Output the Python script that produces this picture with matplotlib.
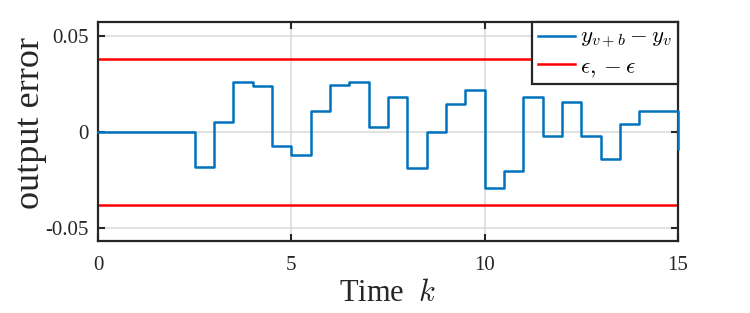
import numpy as np
import matplotlib
matplotlib.use('Agg')
import matplotlib.pyplot as plt

plt.rcParams['font.family'] = ['Liberation Serif', 'DejaVu Serif']
plt.rcParams['mathtext.fontset'] = 'cm'

# time steps (sampling 0.5) and output error values
t = np.arange(0, 15.01, 0.5)
err = [0, 0, 0, 0, 0, -0.0183, 0.0054, 0.0263, 0.0238, -0.0073,
       -0.0118, 0.0111, 0.0247, 0.0263, 0.0028, 0.0183, -0.0186, -0.0002,
       0.0146, 0.0219, -0.0294, -0.0205, 0.0181, -0.0021, 0.0157, -0.0021,
       -0.0143, 0.0040, 0.0108, 0.0108, -0.0089]
eps = 0.038
xticks = [0, 5, 10, 15]
yticks = [-0.05, 0, 0.05]
ytick_labels = ['-0.05', '0', '0.05']

fig = plt.figure(figsize=(7.5, 3.13), dpi=100)
ax = fig.add_axes([0.1307, 0.23, 0.904 - 0.1307, 0.9297 - 0.23])

ax.plot(t, err, drawstyle='steps-post', color='#0072BD', lw=1.8,
        label=r'$y_{v+b}-y_v$', clip_on=False, zorder=3)
ax.plot([0, 15], [eps, eps], color='#FF0000', lw=1.8, label=r'$\epsilon,-\epsilon$')
ax.plot([0, 15], [-eps, -eps], color='#FF0000', lw=1.8)

ax.set_xlim(0, 15)
ax.set_ylim(-0.057, 0.0575)
ax.set_xticks(xticks)
ax.set_yticks(yticks)
ax.set_yticklabels(ytick_labels)
ax.tick_params(direction='in', length=5, width=1.5, color='#262626',
               labelsize=15, labelcolor='#262626', top=True, right=True)
ax.tick_params(axis='x', pad=11)
ax.tick_params(axis='y', pad=7)
ax.grid(True, color='#dcdcdc', lw=1.2)
ax.set_axisbelow(True)
for s in ax.spines.values():
    s.set_linewidth(1.6)
    s.set_color('#262626')

ax.set_xlabel(r'Time  $\mathit{k}$', fontsize=22, color='#262626', labelpad=3)
ax.set_ylabel('output error', fontsize=26, color='#262626')
ax.yaxis.set_label_coords(-0.088, 0.54)

leg = ax.legend(loc='upper right', fontsize=16.5, fancybox=False,
                framealpha=1, edgecolor='#262626', borderaxespad=0,
                handlelength=1.6, handletextpad=0.25, borderpad=0.25,
                labelspacing=0.2)
leg.get_frame().set_linewidth(1.6)

fig.savefig('out.png', dpi=100)
